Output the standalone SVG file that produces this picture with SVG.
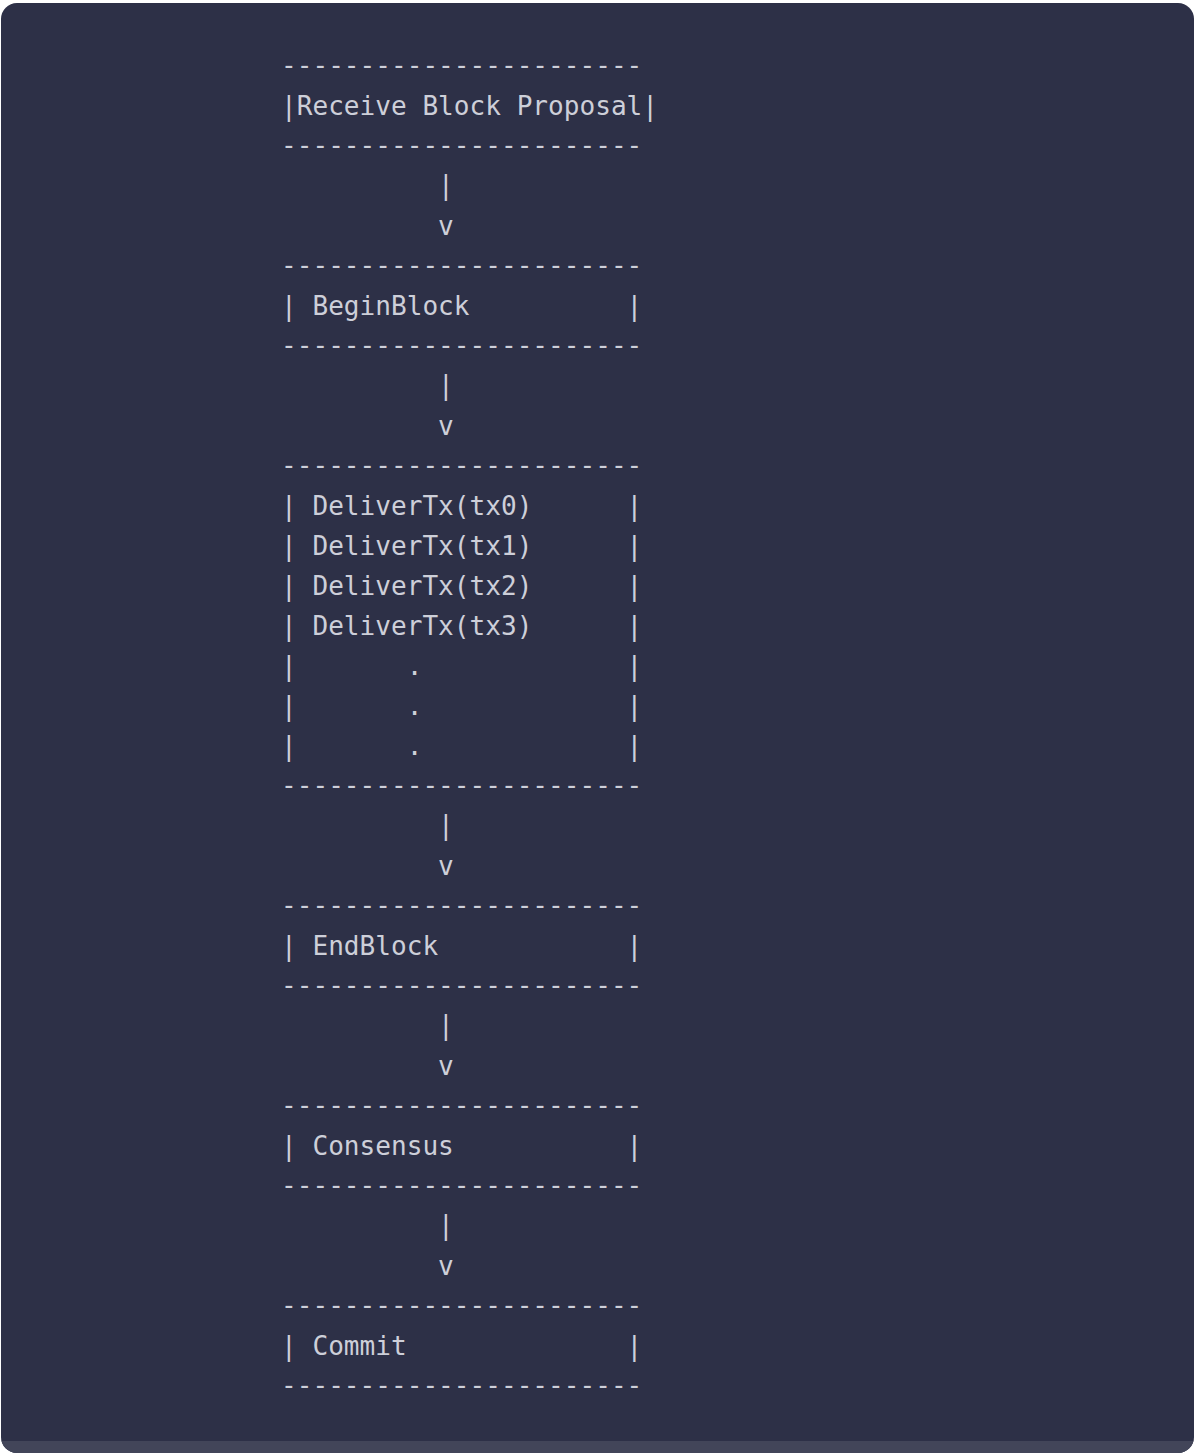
<svg xmlns="http://www.w3.org/2000/svg" width="1196" height="1456" viewBox="0 0 1196 1456">
<style>
text{font-family:"DejaVu Sans Mono","Liberation Mono",monospace;font-size:26.1px;fill:#cdcfd9;white-space:pre}
.d{transform:translateY(-1px)}
</style>
<rect x="0" y="0" width="1196" height="1456" fill="#ffffff"/>
<rect x="1" y="3" width="1193" height="1450" rx="16" fill="#2d3047"/>
<path d="M1 1441 H1194 V1437 A16 16 0 0 1 1178 1453 H17 A16 16 0 0 1 1 1437 Z" fill="#424559"/>
<g id="node-receive">
<text x="281" y="74" xml:space="preserve">-----------------------</text>
<text x="281" y="115" xml:space="preserve">|Receive Block Proposal|</text>
<text x="281" y="154" xml:space="preserve">-----------------------</text>
</g>
<g id="node-beginblock">
<text x="281" y="274" xml:space="preserve">-----------------------</text>
<text x="281" y="315" xml:space="preserve">| BeginBlock          |</text>
<text x="281" y="354" xml:space="preserve">-----------------------</text>
</g>
<g id="node-delivertx">
<text x="281" y="474" xml:space="preserve">-----------------------</text>
<text x="281" y="515" xml:space="preserve">| DeliverTx(tx0)      |</text>
<text x="281" y="555" xml:space="preserve">| DeliverTx(tx1)      |</text>
<text x="281" y="595" xml:space="preserve">| DeliverTx(tx2)      |</text>
<text x="281" y="635" xml:space="preserve">| DeliverTx(tx3)      |</text>
<text x="281" y="675" xml:space="preserve">|       .             |</text>
<text x="281" y="715" xml:space="preserve">|       .             |</text>
<text x="281" y="755" xml:space="preserve">|       .             |</text>
<text x="281" y="794" xml:space="preserve">-----------------------</text>
</g>
<g id="node-endblock">
<text x="281" y="914" xml:space="preserve">-----------------------</text>
<text x="281" y="955" xml:space="preserve">| EndBlock            |</text>
<text x="281" y="994" xml:space="preserve">-----------------------</text>
</g>
<g id="node-consensus">
<text x="281" y="1114" xml:space="preserve">-----------------------</text>
<text x="281" y="1155" xml:space="preserve">| Consensus           |</text>
<text x="281" y="1194" xml:space="preserve">-----------------------</text>
</g>
<g id="node-commit">
<text x="281" y="1314" xml:space="preserve">-----------------------</text>
<text x="281" y="1355" xml:space="preserve">| Commit              |</text>
<text x="281" y="1394" xml:space="preserve">-----------------------</text>
</g>
<g id="connectors">
<text x="281" y="194" xml:space="preserve">          |</text>
<text x="281" y="235" xml:space="preserve">          v</text>
<text x="281" y="394" xml:space="preserve">          |</text>
<text x="281" y="435" xml:space="preserve">          v</text>
<text x="281" y="834" xml:space="preserve">          |</text>
<text x="281" y="875" xml:space="preserve">          v</text>
<text x="281" y="1034" xml:space="preserve">          |</text>
<text x="281" y="1075" xml:space="preserve">          v</text>
<text x="281" y="1234" xml:space="preserve">          |</text>
<text x="281" y="1275" xml:space="preserve">          v</text>
</g>
</svg>
